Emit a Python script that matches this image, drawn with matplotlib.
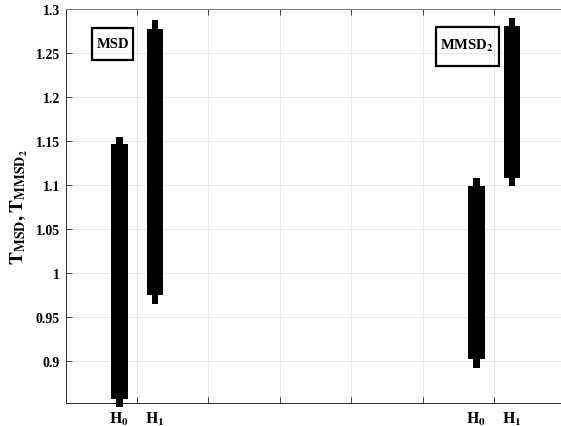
import matplotlib
matplotlib.use('Agg')
import matplotlib.pyplot as plt
from matplotlib.patches import Rectangle
from matplotlib.transforms import blended_transform_factory

plt.rcParams['mathtext.fontset'] = 'stix'
plt.rcParams['font.family'] = ['Liberation Serif', 'DejaVu Serif']

# data
group_labels = ['MSD', r'MMSD$_\mathbf{2}$']
hyp_labels = [r'$\mathbf{H_0}$', r'$\mathbf{H_1}$', r'$\mathbf{H_0}$', r'$\mathbf{H_1}$']
positions = [0.75, 1.25, 5.75, 6.25]
box_low = [0.857, 0.975, 0.9015, 1.108]
box_high = [1.146, 1.277, 1.099, 1.281]
whisk_low = [0.847, 0.965, 0.892, 1.099]
whisk_high = [1.155, 1.287, 1.108, 1.290]
yticks = [0.9, 0.95, 1.0, 1.05, 1.1, 1.15, 1.2, 1.25, 1.3]
ytick_labels = ['0.9', '0.95', '1', '1.05', '1.1', '1.15', '1.2', '1.25', '1.3']
xticks = [1, 2, 3, 4, 5, 6, 7]

fig = plt.figure(figsize=(5.61, 4.27), dpi=100)
ax = fig.add_axes([0.117, 0.0539, 0.891, 0.9227])

dark = '#262626'
for x, bl, bh, wl, wh in zip(positions, box_low, box_high, whisk_low, whisk_high):
    ax.bar(x, wh - wl, bottom=wl, width=0.093, color='black', linewidth=0, clip_on=False, zorder=3)
    ax.bar(x, bh - bl, bottom=bl, width=0.233, color='black', linewidth=0, clip_on=False, zorder=3)

ax.set_xlim(0, 7)
ax.set_ylim(0.852, 1.3)
ax.set_xticks(xticks)
ax.set_xticklabels([])
ax.set_yticks(yticks)
ax.set_yticklabels(ytick_labels, fontsize=10, fontweight='bold')
ax.grid(True, color='#e6e6e6', linewidth=0.7)
ax.set_axisbelow(True)
ax.tick_params(axis='both', direction='in', length=4, width=0.6, color=dark, top=True, right=False, pad=4)
for s in ['left', 'bottom', 'top']:
    ax.spines[s].set_color(dark)
    ax.spines[s].set_linewidth(0.7)
ax.spines['top'].set_color('#7a7a7a')
ax.spines['right'].set_visible(False)

ax.set_ylabel(r'$\mathbf{T_{MSD}, T_{MMSD_2}}$', fontsize=14, labelpad=4)

trans = blended_transform_factory(ax.transData, ax.transAxes)
for x, lab in zip(positions, hyp_labels):
    ax.text(x, -0.016, lab, transform=trans, ha='center', va='top', fontsize=11.5)

# annotation boxes
ax.add_patch(Rectangle((0.0522, 0.8713), 0.0833, 0.0797, transform=ax.transAxes,
                       fill=False, edgecolor='black', linewidth=1.6, zorder=4))
ax.text(0.0948, 0.929, group_labels[0], transform=ax.transAxes, ha='center', va='top',
        fontsize=10.5, fontweight='bold', zorder=5)
ax.add_patch(Rectangle((0.741, 0.856), 0.126, 0.0976, transform=ax.transAxes,
                       fill=False, edgecolor='black', linewidth=1.6, zorder=4))
ax.text(0.803, 0.929, group_labels[1], transform=ax.transAxes, ha='center', va='top',
        fontsize=10.5, fontweight='bold', zorder=5)

fig.savefig('out.png', dpi=100)
